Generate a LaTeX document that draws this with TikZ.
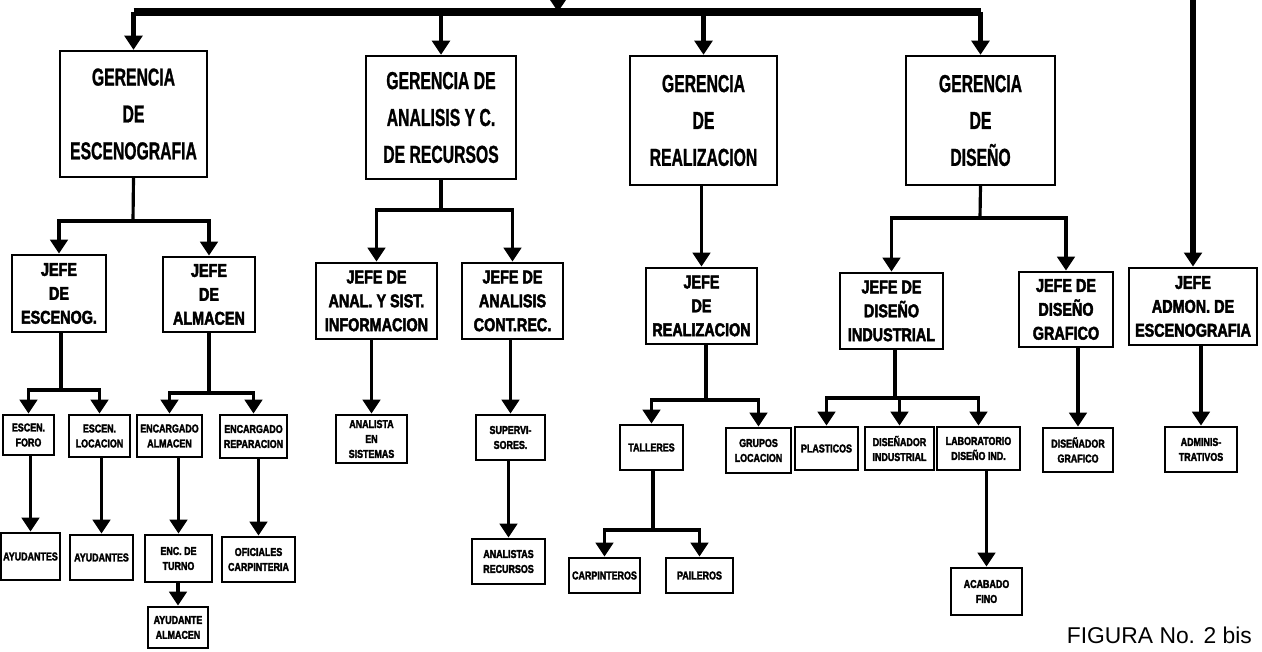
\documentclass[tikz,border=0pt]{standalone}
\usepackage{fontspec}
\usepackage{tikz}
\usetikzlibrary{arrows.meta}
\usetikzlibrary{positioning}
\setmainfont{Liberation Sans}
\newfontfamily\gerfont[FakeStretch=0.64,FakeBold=1]{Liberation Sans Bold}
\newfontfamily\jefefont[FakeStretch=0.78,FakeBold=2.5]{Liberation Sans Bold}

\tikzset{
  gerbox/.style={rectangle, draw=black, line width=1.4pt, align=center, inner sep=0pt, font={\gerfont\fontsize{14}{21}\selectfont}},
  jefebox/.style={rectangle, draw=black, line width=1.6pt, align=center, inner sep=0pt, font={\jefefont\fontsize{10.5}{13.6}\selectfont}},
  subbox/.style={rectangle, draw=black, line width=1.6pt, align=center, inner sep=0pt, font={\jefefont\fontsize{6.5}{8.5}\selectfont}},
  conn/.style={line width=1.8pt},
  drop/.style={line width=2.8pt},
  bus/.style={line width=4pt}
}

\begin{document}
\begin{tikzpicture}[x=0.02cm, y=-0.02cm]

\useasboundingbox (0,0) rectangle (1262,652);

% gerencias
\node at (133.5,114) [gerbox, minimum width=2.94cm, minimum height=2.52cm] (g1) {GERENCIA\\DE\\ESCENOGRAFIA};
\node at (441,117.5) [gerbox, minimum width=3.0cm, minimum height=2.46cm] (g2) {GERENCIA DE\\ANALISIS Y C.\\DE RECURSOS};
\node at (703.5,120.5) [gerbox, minimum width=2.94cm, minimum height=2.58cm] (g3) {GERENCIA\\DE\\REALIZACION};
\node at (980.5,120.5) [gerbox, minimum width=2.98cm, minimum height=2.58cm] (g4) {GERENCIA\\DE\\DISEÑO};

% jefes
\node at (59,293.5) [jefebox, minimum width=1.88cm, minimum height=1.54cm] (j1) {JEFE\\DE\\ESCENOG.};
\node at (209,294.5) [jefebox, minimum width=1.84cm, minimum height=1.5cm] (j2) {JEFE\\DE\\ALMACEN};
\node at (376.5,301) [jefebox, minimum width=2.42cm, minimum height=1.52cm] (j3) {JEFE DE\\ANAL. Y SIST.\\INFORMACION};
\node at (512.5,301) [jefebox, minimum width=2.02cm, minimum height=1.52cm] (j4) {JEFE DE\\ANALISIS\\CONT.REC.};
\node at (701.5,306) [jefebox, minimum width=2.22cm, minimum height=1.52cm] (j5) {JEFE\\DE\\REALIZACION};
\node at (891.5,311) [jefebox, minimum width=2.06cm, minimum height=1.52cm] (j6) {JEFE DE\\DISEÑO\\INDUSTRIAL};
\node at (1066,309.5) [jefebox, minimum width=1.88cm, minimum height=1.5cm] (j7) {JEFE DE\\DISEÑO\\GRAFICO};
\node at (1193,306.5) [jefebox, minimum width=2.56cm, minimum height=1.54cm] (j8) {JEFE\\ADMON. DE\\ESCENOGRAFIA};

% encargados y demas
\node at (28.5,435) [subbox, minimum width=1.02cm, minimum height=0.8cm] (e1) {ESCEN.\\FORO};
\node at (99.5,436) [subbox, minimum width=1.22cm, minimum height=0.84cm] (e2) {ESCEN.\\LOCACION};
\node at (169.5,436) [subbox, minimum width=1.3cm, minimum height=0.84cm] (e3) {ENCARGADO\\ALMACEN};
\node at (253.5,436.5) [subbox, minimum width=1.34cm, minimum height=0.86cm] (e4) {ENCARGADO\\REPARACION};
\node at (30.5,556.5) [subbox, minimum width=1.18cm, minimum height=0.94cm] (a1) {AYUDANTES};
\node at (101.5,557.5) [subbox, minimum width=1.26cm, minimum height=0.9cm] (a2) {AYUDANTES};
\node at (178.5,558.5) [subbox, minimum width=1.34cm, minimum height=0.94cm] (a3) {ENC. DE\\TURNO};
\node at (258.5,559.5) [subbox, minimum width=1.46cm, minimum height=0.9cm] (a4) {OFICIALES\\CARPINTERIA};
\node at (178,627.5) [subbox, minimum width=1.2cm, minimum height=0.82cm] (a5) {AYUDANTE\\ALMACEN};
\node at (371.5,439) [subbox, minimum width=1.42cm, minimum height=0.96cm] (e5) {ANALISTA\\EN\\SISTEMAS};
\node at (510.5,437.5) [subbox, minimum width=1.38cm, minimum height=0.9cm] (e6) {SUPERVI-\\SORES.};
\node at (508.5,561.5) [subbox, minimum width=1.46cm, minimum height=0.9cm] (a6) {ANALISTAS\\RECURSOS};
\node at (651.5,447.5) [subbox, minimum width=1.26cm, minimum height=0.9cm] (t1) {TALLERES};
\node at (758.5,450.5) [subbox, minimum width=1.3cm, minimum height=0.9cm] (t2) {GRUPOS\\LOCACION};
\node at (604.5,575.5) [subbox, minimum width=1.42cm, minimum height=0.7cm] (c1) {CARPINTEROS};
\node at (699.5,575.5) [subbox, minimum width=1.34cm, minimum height=0.7cm] (c2) {PAILEROS};
\node at (826.5,448.5) [subbox, minimum width=1.26cm, minimum height=0.86cm] (p1) {PLASTICOS};
\node at (899.5,448.5) [subbox, minimum width=1.38cm, minimum height=0.86cm] (p2) {DISEÑADOR\\INDUSTRIAL};
\node at (978.5,448.5) [subbox, minimum width=1.66cm, minimum height=0.86cm] (p3) {LABORATORIO\\DISEÑO IND.};
\node at (986.5,591.5) [subbox, minimum width=1.42cm, minimum height=0.94cm] (p4) {ACABADO\\FINO};
\node at (1078,450) [subbox, minimum width=1.4cm, minimum height=0.88cm] (d1) {DISEÑADOR\\GRAFICO};
\node at (1201,449.5) [subbox, minimum width=1.44cm, minimum height=0.9cm] (a7) {ADMINIS-\\TRATIVOS};

\node at (1258,643) [anchor=base east, font={\fontsize{13}{15}\selectfont}] (fig) {FIGURA No. 2 bis};

\coordinate (bus) at (0,12);
\coordinate (topin) at (558,-25);
\coordinate (topright) at (1190,-20);
\coordinate (bg1) at (133,221);
\coordinate (bg2) at (441,210);
\coordinate (bg4) at (980,218);
\coordinate (bj1) at (61,390);
\coordinate (bj2) at (209,393);
\coordinate (bj5) at (706,400);
\coordinate (bj6) at (895,398);
\coordinate (bt1) at (653,530);

\begin{scope}[>={Triangle[width=10pt,length=8pt]}]
	\draw [bus] (g1.north |- bus) -- (g4.north |- bus);
	\draw [drop, ->] (topin) -- (topin |- bus);
	\draw [drop, ->] (g1.north |- bus) -- (g1.north);
	\draw [drop, ->] (g2.north |- bus) -- (g2.north);
	\draw [drop, ->] (g3.north |- bus) -- (g3.north);
	\draw [drop, ->] (g4.north |- bus) -- (g4.north);
	\draw [line width=3pt, ->] (j8.north |- topright) -- (j8.north);

	\draw [conn] (g1.south) -- (bg1);
	\draw [conn, ->] (bg1) -| (j1.north);
	\draw [conn, ->] (bg1) -| (j2.north);
	\draw [conn] (g2.south) -- (bg2);
	\draw [conn, ->] (bg2) -| (j3.north);
	\draw [conn, ->] (bg2) -| (j4.north);
	\draw [conn, ->] (g3.south -| j5.north) -- (j5.north);
	\draw [conn] (g4.south) -- (bg4);
	\draw [conn, ->] (bg4) -| (j6.north);
	\draw [conn, ->] (bg4) -| (j7.north);

	\draw [conn] (j1.south -| bj1) -- (bj1);
	\draw [conn, ->] (bj1) -| (e1.north);
	\draw [conn, ->] (bj1) -| (e2.north);
	\draw [conn] (j2.south -| bj2) -- (bj2);
	\draw [conn, ->] (bj2) -| (e3.north);
	\draw [conn, ->] (bj2) -| (e4.north);
	\draw [conn, ->] (j3.south -| e5.north) -- (e5.north);
	\draw [conn, ->] (j4.south -| e6.north) -- (e6.north);
	\draw [conn] (j5.south -| bj5) -- (bj5);
	\draw [conn, ->] (bj5) -| (t1.north);
	\draw [conn, ->] (bj5) -| (t2.north);
	\draw [conn] (j6.south -| bj6) -- (bj6);
	\draw [conn, ->] (bj6) -| (p1.north);
	\draw [conn, ->] (bj6) -| (p2.north);
	\draw [conn, ->] (bj6) -| (p3.north);
	\draw [conn, ->] (j7.south -| d1.north) -- (d1.north);
	\draw [conn, ->] (j8.south -| a7.north) -- (a7.north);

	\draw [conn, ->] (e1.south -| a1.north) -- (a1.north);
	\draw [conn, ->] (e2.south -| a2.north) -- (a2.north);
	\draw [conn, ->] (e3.south -| a3.north) -- (a3.north);
	\draw [conn, ->] (e4.south -| a4.north) -- (a4.north);
	\draw [conn, ->] (a3.south -| a5.north) -- (a5.north);
	\draw [conn, ->] (e6.south -| a6.north) -- (a6.north);
	\draw [conn] (t1.south -| bt1) -- (bt1);
	\draw [conn, ->] (bt1) -| (c1.north);
	\draw [conn, ->] (bt1) -| (c2.north);
	\draw [conn, ->] (p3.south -| p4.north) -- (p4.north);
\end{scope}

\end{tikzpicture}
\end{document}
